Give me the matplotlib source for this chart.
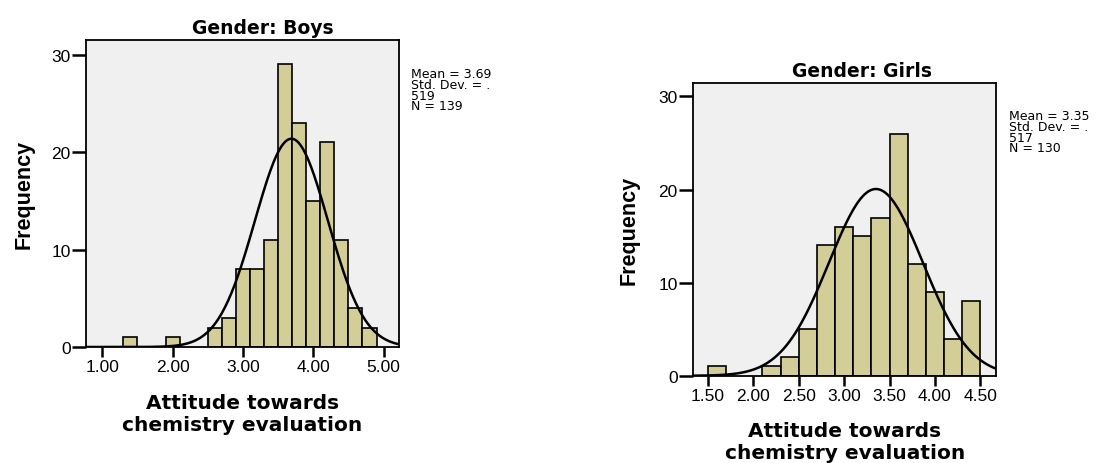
import numpy as np
import matplotlib.pyplot as plt

# histogram bins (left edges, width 0.2) and counts
boys_left = [1.3, 1.9, 2.5, 2.7, 2.9, 3.1, 3.3, 3.5, 3.7, 3.9, 4.1, 4.3, 4.5, 4.7]
boys_count = [1, 1, 2, 3, 8, 8, 11, 29, 23, 15, 21, 11, 4, 2]
girls_left = [1.5, 2.1, 2.3, 2.5, 2.7, 2.9, 3.1, 3.3, 3.5, 3.7, 3.9, 4.1, 4.3]
girls_count = [1, 1, 2, 5, 14, 16, 15, 17, 26, 12, 9, 4, 8]
bin_w = 0.2

# mean, std dev, N
boys_stats = (3.69, 0.519, 139)
girls_stats = (3.35, 0.517, 130)

boys_ticks = [1.0, 2.0, 3.0, 4.0, 5.0]
girls_ticks = [1.5, 2.0, 2.5, 3.0, 3.5, 4.0, 4.5]

plt.rcParams['font.family'] = ['Liberation Sans', 'DejaVu Sans']

fig = plt.figure(figsize=(11.1, 4.64), dpi=100)

def draw(rect, left, count, stats, ticks, xlim, title, title_x, statpos, ylpad):
    ax = fig.add_axes(rect)
    ax.set_facecolor('#f0f0f0')
    ax.bar(left, count, width=bin_w, align='edge', color='#d3ce97',
           edgecolor='black', linewidth=1.2, zorder=2)
    # fitted normal curve
    mean, sd, n = stats
    xs = np.linspace(xlim[0], xlim[1], 300)
    ys = n * bin_w / (sd * np.sqrt(2 * np.pi)) * np.exp(-0.5 * ((xs - mean) / sd) ** 2)
    ax.plot(xs, ys, color='black', linewidth=1.8, zorder=3)
    ax.set_xlim(xlim)
    ax.set_ylim(0, 31.5)
    ax.set_xticks(ticks)
    ax.set_xticklabels(['%.2f' % t for t in ticks])
    ax.set_yticks([0, 10, 20, 30])
    ax.tick_params(labelsize=12.5, width=1.8, direction='out')
    ax.tick_params(axis='x', length=7, pad=2)
    ax.tick_params(axis='y', length=10, pad=1)
    for s in ax.spines.values():
        s.set_linewidth(1.3)
    ax.set_title(title, fontsize=13.5, fontweight='bold', family='DejaVu Sans',
                 pad=5, x=title_x)
    ax.set_ylabel('Frequency', fontsize=15.5, fontweight='bold', labelpad=ylpad)
    ax.set_xlabel('Attitude towards\nchemistry evaluation', fontsize=14.5,
                  fontweight='bold', family='DejaVu Sans', linespacing=1.2, labelpad=13)
    fig.text(statpos[0], statpos[1],
             'Mean = %.2f\nStd. Dev. = .\n%d\nN = %d' % (mean, round(sd * 1000), n),
             fontsize=9, family='DejaVu Sans', va='top', ha='left', linespacing=0.78)
    return ax

draw([0.0775, 0.25, 0.282, 0.6616], boys_left, boys_count, boys_stats,
     boys_ticks, (0.77, 5.22), 'Gender: Boys', 0.564, (411 / 1110, 1 - 68 / 464), 12)
draw([0.6243, 0.188, 0.2733, 0.632], girls_left, girls_count, girls_stats,
     girls_ticks, (1.335, 4.676), 'Gender: Girls', 0.556, (1009 / 1110, 1 - 110 / 464), 13.5)

fig.savefig('out.png', dpi=100)
